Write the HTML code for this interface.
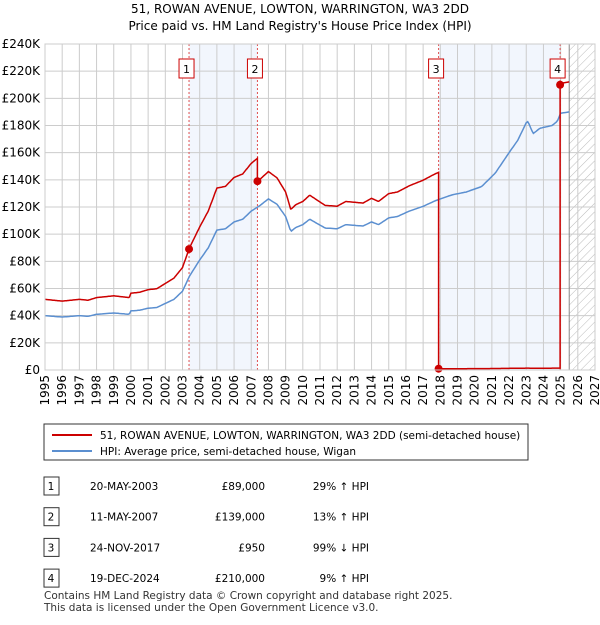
<!DOCTYPE html>
<html><head><meta charset="utf-8"><style>
body{margin:0;background:#fff;font-family:"Liberation Sans","DejaVu Sans",sans-serif;}
svg text{font-family:"DejaVu Sans","Liberation Sans",sans-serif;}
</style></head><body>
<svg id="c" width="600" height="620" xmlns="http://www.w3.org/2000/svg">
<text x="300" y="13" text-anchor="middle" font-size="12">51, ROWAN AVENUE, LOWTON, WARRINGTON, WA3 2DD</text>
<text x="300" y="30" text-anchor="middle" font-size="12">Price paid vs. HM Land Registry's House Price Index (HPI)</text>
<defs><pattern id="hatch" width="6" height="6" patternUnits="userSpaceOnUse" patternTransform="rotate(45)"><line x1="0" y1="0" x2="0" y2="6" stroke="#bbb" stroke-width="1"/></pattern></defs>
<g id="plot"></g>
<rect x="44" y="424" width="484" height="36" fill="#fff" stroke="#333"/>
<line x1="52" y1="435" x2="92" y2="435" stroke="#cc0000" stroke-width="2"/>
<text x="100" y="439" font-size="10.5">51, ROWAN AVENUE, LOWTON, WARRINGTON, WA3 2DD (semi-detached house)</text>
<line x1="52" y1="451" x2="92" y2="451" stroke="#5b8fd0" stroke-width="2"/>
<text x="100" y="455" font-size="10.5">HPI: Average price, semi-detached house, Wigan</text>
<g id="tbl" font-size="10.5"></g>
<text x="44" y="599" font-size="10.5" fill="#333">Contains HM Land Registry data © Crown copyright and database right 2025.</text>
<text x="44" y="611" font-size="10.5" fill="#333">This data is licensed under the Open Government Licence v3.0.</text>
</svg>
<script>
const hpiYears=[1995,1996,1997,1997.5,1998,1999,1999.9,2000,2000.5,2001,2001.5,2002,2002.5,2003,2003.4,2004,2004.5,2005,2005.5,2006,2006.5,2007,2007.5,2008,2008.5,2009,2009.3,2009.6,2010,2010.4,2011.3,2012,2012.5,2013.5,2014,2014.4,2015,2015.5,2016.2,2017,2017.6,2018,2018.7,2019.5,2020.4,2021.2,2022,2022.5,2023,2023.1,2023.4,2023.8,2024.5,2024.8,2025,2025.5];
const hpiValues=[40,39,40,39.5,41,42,41,43.5,44,45.5,46,49,52,58,69,81,90,103,104,109,111,117,121,126,122,113,102,105,107,111,104.5,104,107,106,109,107,112,113,117,120.5,124,126,129,131,135,145,160,169,182,183,174,178,180,183,189,190];
const saleLabels=["1","2","3","4"];
const saleYears=[2003.38,2007.36,2017.9,2024.97];
const salePrices=[89,139,0.95,210];
const saleDates=["20-MAY-2003","11-MAY-2007","24-NOV-2017","19-DEC-2024"];
const salePriceText=["£89,000","£139,000","£950","£210,000"];
const saleHpiText=["29% ↑ HPI","13% ↑ HPI","99% ↓ HPI","9% ↑ HPI"];
const yTicks=[0,20,40,60,80,100,120,140,160,180,200,220,240];
const xTicks=[1995,1996,1997,1998,1999,2000,2001,2002,2003,2004,2005,2006,2007,2008,2009,2010,2011,2012,2013,2014,2015,2016,2017,2018,2019,2020,2021,2022,2023,2024,2025,2026,2027];

const X0=45,X1=595,Y0=370,Y1=44;
const xs=y=>X0+(y-1995)/(2027-1995)*(X1-X0);
const ys=v=>Y0-v/240*(Y0-Y1);
const NS="http://www.w3.org/2000/svg";
const g=document.getElementById('plot');
function mk(t,a,p){const e=document.createElementNS(NS,t);for(const k in a)e.setAttribute(k,a[k]);(p||g).appendChild(e);return e;}
function hpiAt(y){if(y<=hpiYears[0])return hpiValues[0];for(let i=1;i<hpiYears.length;i++){if(y<=hpiYears[i]){const t=(y-hpiYears[i-1])/(hpiYears[i]-hpiYears[i-1]);return hpiValues[i-1]+t*(hpiValues[i]-hpiValues[i-1]);}}return hpiValues[hpiValues.length-1];}

let r=mk('rect',{x:xs(saleYears[0]),y:Y1,width:xs(saleYears[1])-xs(saleYears[0]),height:Y0-Y1,fill:'#f2f6fd'});

r=mk('rect',{x:xs(saleYears[2]),y:Y1,width:xs(saleYears[3])-xs(saleYears[2]),height:Y0-Y1,fill:'#f2f6fd'});

r=mk('rect',{x:xs(2025.5),y:Y1,width:X1-xs(2025.5),height:Y0-Y1,fill:'url(#hatch)'});

yTicks.forEach(v=>{const l=mk('line',{x1:X0,x2:X1,y1:ys(v),y2:ys(v),stroke:'#ccc'});

const t=mk('text',{x:X0-5,y:ys(v)+4,'text-anchor':'end','font-size':12});t.textContent=v===0?'£0':'£'+v+'K';
});
xTicks.forEach(y=>{const l=mk('line',{x1:xs(y),x2:xs(y),y1:Y1,y2:Y0,stroke:'#ccc'});

const t=mk('text',{x:0,y:0,'font-size':12,'text-anchor':'end',transform:`translate(${xs(y)+4},${Y0+5}) rotate(-90)`});t.textContent=y;
});
const vl=mk('line',{x1:xs(2025.5),x2:xs(2025.5),y1:Y1,y2:Y0,stroke:'#888'});

saleYears.forEach((y,i)=>{const l=mk('line',{x1:xs(y),x2:xs(y),y1:Y1,y2:Y0,stroke:'#e05050','stroke-dasharray':'2,2','stroke-width':1});

const b=mk('rect',{x:xs(y)-10,y:59,width:15,height:19,fill:'#fff',stroke:'#cc0000'});

const t=mk('text',{x:xs(y)-2.5,y:73,'text-anchor':'middle','font-size':11});t.textContent=saleLabels[i];
});
let d='';for(let y=1995;y<=2025.5;y+=1/12){d+=(d?'L':'M')+xs(y).toFixed(1)+','+ys(hpiAt(y)).toFixed(1);}
const hp=mk('path',{d:d,fill:'none',stroke:'#5b8fd0','stroke-width':1.5});

const fac=saleYears.map((y,i)=>salePrices[i]/hpiAt(y));
d='';for(let y=1995;y<=2025.5+1e-6;y+=1/24){let k=0;for(let i=0;i<saleYears.length;i++)if(y>=saleYears[i])k=i;
if(d&&saleYears.some(s=>s>y-1/24&&s<=y)){const s=saleYears.find(s=>s>y-1/24&&s<=y);const i=saleYears.indexOf(s);
d+='L'+xs(s).toFixed(1)+','+ys(hpiAt(s)*(i>0?fac[i-1]:fac[0])).toFixed(1)+'L'+xs(s).toFixed(1)+','+ys(salePrices[i]).toFixed(1);}
d+=(d?'L':'M')+xs(y).toFixed(1)+','+ys(hpiAt(y)*fac[k]).toFixed(1);}
const pp=mk('path',{d:d,fill:'none',stroke:'#cc0000','stroke-width':1.5});

saleYears.forEach((y,i)=>{const c=mk('circle',{cx:xs(y),cy:ys(salePrices[i]),r:4,fill:'#cc0000'});
});
mk('rect',{x:X0,y:Y1,width:X1-X0,height:Y0-Y1,fill:'none',stroke:'#ccc'});
const tb=document.getElementById('tbl');
saleYears.forEach((y,i)=>{const ry=489+i*30.7;
const b=mk('rect',{x:44,y:ry-12,width:15,height:18,fill:'#fff',stroke:'#333'},tb);

const cells=[[51,saleLabels[i],'middle'],[90,saleDates[i],'start'],[265,salePriceText[i],'end'],[369,saleHpiText[i],'end']];
cells.forEach(c=>{const t=mk('text',{x:c[0],y:ry+1,'text-anchor':c[2]},tb);t.textContent=c[1];
});});
</script>
</body></html>
